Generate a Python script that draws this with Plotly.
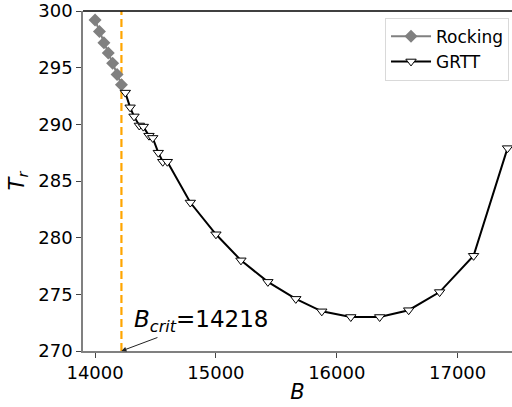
import plotly.graph_objects as go

rock_B = [14000, 14036, 14073, 14109, 14145, 14182, 14218]
rock_T = [299.2, 298.2, 297.2, 296.3, 295.4, 294.4, 293.5]

grtt_B = [14250, 14290, 14322, 14366, 14399, 14446, 14477, 14523, 14560, 14598,
          14788, 15000, 15207, 15430, 15661, 15876, 16116, 16355, 16595, 16851,
          17132, 17413]
grtt_T = [292.8, 291.5, 290.7, 289.9, 289.8, 289.0, 288.8, 287.5, 286.7, 286.7,
          283.1, 280.3, 278.0, 276.1, 274.6, 273.5, 273.0, 273.0, 273.6, 275.2,
          278.4, 287.9]

B_crit = 14218
x_ticks = [14000, 15000, 16000, 17000]
x_labels = ["14000", "15000", "16000", "17000"]
y_ticks = [270, 275, 280, 285, 290, 295, 300]
y_labels = ["270", "275", "280", "285", "290", "295", "300"]

font = "DejaVu Sans"
fig = go.Figure()
fig.add_trace(go.Scatter(x=rock_B, y=rock_T, mode="lines+markers", name="Rocking",
                         line=dict(color="#808080", width=2),
                         marker=dict(symbol="diamond", size=10, color="#808080")))
fig.add_trace(go.Scatter(x=grtt_B, y=grtt_T, mode="lines+markers", name="GRTT",
                         line=dict(color="black", width=2),
                         marker=dict(symbol="triangle-down", size=9, color="white",
                                     line=dict(color="black", width=1))))
fig.add_shape(type="line", x0=B_crit, x1=B_crit, y0=0, y1=1, xref="x", yref="paper",
              line=dict(color="#FFA500", width=2.2, dash="8px,4px"), layer="below")
fig.add_shape(type="line", x0=0, x1=1, y0=1, y1=1, xref="paper", yref="paper",
              line=dict(color="black", width=1.5))
fig.add_annotation(x=B_crit, y=270, xref="x", yref="y",
                   text="<i>B</i><sub><i>crit</i></sub>=14218",
                   showarrow=True, axref="pixel", ayref="pixel", ax=80, ay=-30,
                   arrowhead=2, arrowsize=1, arrowwidth=1, arrowcolor="#222",
                   font=dict(family=font, size=23, color="black"))
fig.update_layout(
    width=512, height=407, margin=dict(l=83, r=0, t=9, b=56),
    plot_bgcolor="white", paper_bgcolor="white",
    font=dict(family=font, size=18, color="black"),
    legend=dict(x=0.704, y=0.98, xanchor="left", yanchor="top",
                bordercolor="#d9d9d9", borderwidth=1, bgcolor="white",
                font=dict(size=17), itemwidth=40, tracegroupgap=0),
    xaxis=dict(range=[13900, 17450], tickvals=x_ticks, ticktext=x_labels,
               ticks="outside", ticklen=5, ticklabeloverflow="allow",
               tickcolor="#444", showline=True, linecolor="#808080", linewidth=1.5,
               showgrid=False, zeroline=False,
               title=dict(text="<i>B</i>", font=dict(size=21), standoff=2)),
    yaxis=dict(range=[270, 300], tickvals=y_ticks, ticktext=y_labels,
               ticks="outside", ticklen=5, ticklabeloverflow="allow",
               tickcolor="#444", showline=True, linecolor="#808080", linewidth=1.5,
               showgrid=False, zeroline=False,
               title=dict(text="<i>T</i><sub><i>r</i></sub>", font=dict(size=21), standoff=8)),
)
fig.write_html("out.html")
